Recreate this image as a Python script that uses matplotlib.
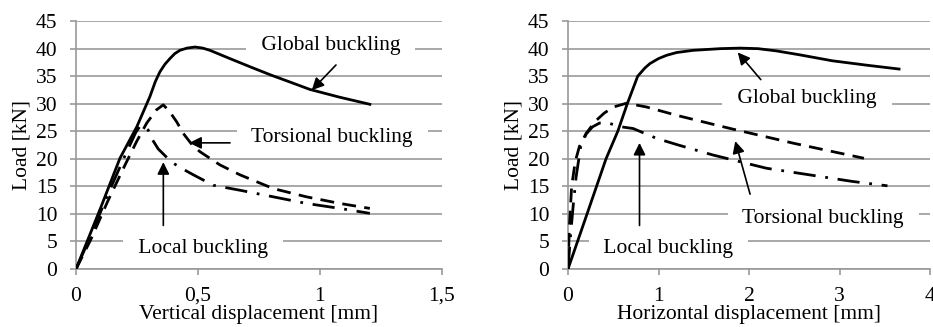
import matplotlib.pyplot as plt
import numpy as np

plt.rcParams['font.family'] = ['Liberation Serif', 'DejaVu Serif']
plt.rcParams['font.size'] = 15.5

# 左图：竖向位移
v_global_x = [0, 0.10, 0.18, 0.249, 0.303, 0.325, 0.344, 0.365, 0.385, 0.405, 0.426, 0.455, 0.488,
              0.52, 0.549, 0.631, 0.72, 0.80, 0.88, 0.959, 1.08, 1.205]
v_global_y = [0, 11.0, 20.1, 25.8, 31.3, 34.0, 35.8, 37.2, 38.2, 39.1, 39.7, 40.1, 40.3,
              40.1, 39.7, 38.2, 36.6, 35.2, 33.9, 32.6, 31.2, 29.9]
v_tors_x = [0, 0.06, 0.13, 0.20, 0.249, 0.29, 0.33, 0.358, 0.385, 0.413, 0.44, 0.475, 0.508,
            0.59, 0.672, 0.809, 0.945, 1.082, 1.205]
v_tors_y = [0, 5.3, 12.3, 18.8, 23.2, 26.5, 28.9, 29.8, 28.5, 26.7, 24.6, 22.6, 21.3,
            18.9, 17.1, 14.6, 13.1, 11.9, 11.0]
v_local_x = [0, 0.06, 0.13, 0.20, 0.245, 0.262, 0.278, 0.296, 0.31, 0.337, 0.378, 0.399, 0.44,
             0.481, 0.563, 0.672, 0.809, 0.945, 1.082, 1.205]
v_local_y = [0, 6.0, 13.5, 20.5, 24.8, 25.9, 26.0, 25.2, 23.7, 21.8, 20.0, 19.2, 18.1,
             17.1, 15.2, 14.3, 13.1, 11.9, 11.0, 10.1]

# 右图：水平位移
h_global_x = [0, 0.20, 0.42, 0.55, 0.655, 0.77, 0.85, 0.906, 1.0, 1.09, 1.2, 1.385, 1.68,
              1.9, 2.1, 2.3, 2.554, 2.92, 3.3, 3.658]
h_global_y = [0, 9.5, 20.0, 25.0, 30.0, 35.0, 36.5, 37.3, 38.2, 38.8, 39.3, 39.7, 40.0,
              40.1, 40.0, 39.6, 38.9, 37.8, 37.0, 36.3]
h_tors_x = [0, 0.015, 0.04, 0.08, 0.125, 0.2, 0.3, 0.4, 0.5, 0.648, 0.87, 1.2, 1.57, 1.82, 2.5, 3.27]
h_tors_y = [0, 7.7, 15.0, 19.5, 22.2, 24.6, 26.8, 28.3, 29.4, 30.1, 29.4, 27.9, 26.4, 25.4, 22.8, 20.1]
h_local_x = [0, 0.03, 0.06, 0.09, 0.14, 0.2, 0.27, 0.35, 0.42, 0.593, 0.72, 0.98, 1.22, 1.6,
             2.19, 3.14, 3.53]
h_local_y = [0, 6.5, 12.0, 16.8, 22.2, 24.5, 25.8, 26.5, 26.6, 25.8, 25.5, 23.7, 22.5, 20.7,
             18.3, 15.9, 15.1]

yticks = np.arange(0, 46, 5)

fig = plt.figure(figsize=(9.33, 3.27), dpi=100)
ax1 = fig.add_axes([0.0815, 0.1774, 0.392, 0.758])
ax2 = fig.add_axes([0.6088, 0.1774, 0.388, 0.758])

lw = 2.0
dash = (0, (5, 3))
dashdot = (0, (8, 3.5, 1, 3.5))
box = dict(facecolor='white', edgecolor='none', pad=7)
arrow = dict(arrowstyle='-|>', color='black', lw=1.2, mutation_scale=18)


def style(ax, xmax, xticks, xlabels, xlab):
    ax.set_xlim(0, xmax)
    ax.set_ylim(0, 45)
    ax.set_yticks(yticks)
    ax.set_xticks(xticks)
    ax.set_xticklabels(xlabels)
    ax.grid(axis='y', color='#999999', lw=1.2, zorder=0)
    ax.set_axisbelow(True)
    for s in ['top', 'right']:
        ax.spines[s].set_visible(False)
    for s in ['left', 'bottom']:
        ax.spines[s].set_color('#999999')
        ax.spines[s].set_linewidth(1.2)
        ax.spines[s].set_zorder(0.5)
    ax.tick_params(axis='x', direction='out', length=4, color='#999999', width=1.2, pad=9)
    ax.tick_params(axis='y', direction='out', length=4.5, color='#999999', width=1.2, pad=9)
    ax.set_xlabel(xlab, labelpad=-1)
    ax.set_ylabel('Load [kN]', labelpad=3)


# 左图
ax1.plot(v_global_x, v_global_y, color='black', lw=lw, zorder=3)
ax1.plot(v_tors_x, v_tors_y, color='black', lw=lw, ls=dash, zorder=3)
ax1.plot(v_local_x, v_local_y, color='black', lw=lw, ls=dashdot, zorder=3)
style(ax1, 1.5, [0, 0.5, 1, 1.5], ['0', '0,5', '1', '1,5'], 'Vertical displacement [mm]')

ax1.text(1.045, 40.6, ' Global buckling ', ha='center', va='center', bbox=box, zorder=2)
ax1.annotate('', xy=(0.959, 32.1), xytext=(1.074, 37.4), arrowprops=arrow, zorder=4)
ax1.text(1.051, 23.8, ' Torsional buckling ', ha='center', va='center', bbox=box, zorder=2)
ax1.annotate('', xy=(0.453, 22.9), xytext=(0.643, 22.9), arrowprops=arrow, zorder=4)
ax1.text(0.52, 3.8, ' Local buckling ', ha='center', va='center', bbox=box, zorder=2)
ax1.annotate('', xy=(0.358, 19.9), xytext=(0.358, 7.4), arrowprops=arrow, zorder=4)

# 右图
ax2.plot(h_global_x, h_global_y, color='black', lw=lw, zorder=3)
ax2.plot(h_tors_x, h_tors_y, color='black', lw=lw, ls=dash, zorder=3)
ax2.plot(h_local_x, h_local_y, color='black', lw=lw, ls=dashdot, zorder=3)
style(ax2, 4, [0, 1, 2, 3, 4], ['0', '1', '2', '3', '4'], 'Horizontal displacement [mm]')

ax2.text(2.64, 31.0, ' Global buckling ', ha='center', va='center', bbox=box, zorder=2)
ax2.annotate('', xy=(1.856, 39.7), xytext=(2.15, 34.0), arrowprops=arrow, zorder=4)
ax2.text(2.82, 9.2, ' Torsional buckling ', ha='center', va='center', bbox=box, zorder=2)
ax2.annotate('', xy=(1.84, 23.7), xytext=(2.02, 13.1), arrowprops=arrow, zorder=4)
ax2.text(1.11, 3.8, ' Local buckling ', ha='center', va='center', bbox=box, zorder=2)
ax2.annotate('', xy=(0.79, 23.4), xytext=(0.79, 7.4), arrowprops=arrow, zorder=4)

fig.savefig('out.png', dpi=100)
